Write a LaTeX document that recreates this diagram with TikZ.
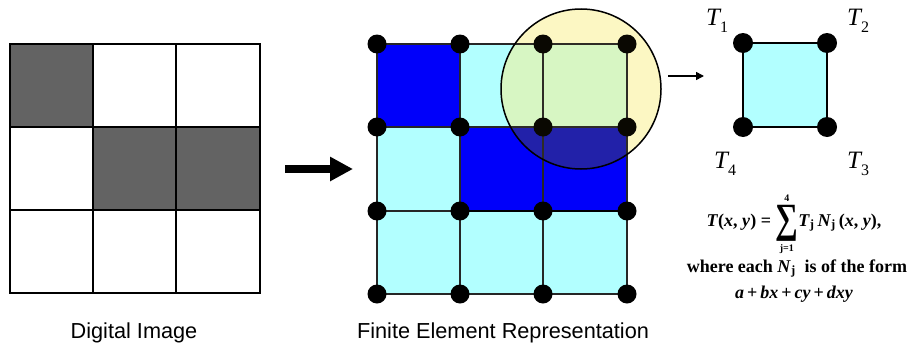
\documentclass[tikz,border=0pt]{standalone}
\usepackage{fontspec}
\setmainfont{Liberation Serif}
\setsansfont{Liberation Sans}
\usetikzlibrary{arrows.meta}
\definecolor{pixgray}{RGB}{99,99,99}
\definecolor{feblue}{RGB}{0,0,250}
\definecolor{fecyan}{RGB}{178,255,255}
\definecolor{lensyellow}{RGB}{255,252,204}
\definecolor{lensgreen}{RGB}{216,251,204}
\definecolor{lensblue}{RGB}{26,26,176}
\definecolor{lenstint}{RGB}{200,170,40}
\newcommand{\bfi}[1]{\textbf{\textit{#1}}}
\begin{document}
\begin{tikzpicture}[x=1pt,y=-1pt,
  dot/.style={circle,fill=black,inner sep=0pt,minimum size=19pt},
  pixline/.style={line width=2pt,black},
  feline/.style={line width=1.4pt,black!85},
  lbl/.style={font=\fontsize{21.7}{24}\selectfont\sffamily,anchor=base,inner sep=0pt},
  tlab/.style={font=\fontsize{25}{28}\selectfont\itshape,anchor=base west,inner sep=0pt},
  eqtext/.style={font=\fontsize{18}{20}\selectfont\bfseries,anchor=base,inner sep=0pt},
]
\useasboundingbox (0,0) rectangle (912,348);

% ---------- digital image grid ----------
\fill[pixgray] (10,44) rectangle (93,127);
\fill[pixgray] (93,127) rectangle (260,210);
\foreach \x in {93,176} \draw[pixline] (\x,44) -- (\x,293);
\foreach \y in {127,210} \draw[pixline] (10,\y) -- (260,\y);
\draw[pixline] (10,44) rectangle (260,293);
\draw[line width=2.8pt] (10,44) rectangle (93,127);
\draw[line width=2.8pt] (93,127) rectangle (260,210);
\draw[line width=2.8pt] (176,127) -- (176,210);

% ---------- big arrow ----------
\coordinate (bigA) at (285,169);
\coordinate (bigB) at (353,169);
\draw[line width=8pt,-{Triangle[length=23pt,width=23pt]}] (bigA) -- (bigB);

% ---------- finite element grid ----------
\foreach \i/\x in {0/377,1/460,2/543,3/627}
  \foreach \j/\y in {0/44,1/127,2/211,3/294}
    \coordinate (p\i\j) at (\x,\y);
\fill[fecyan] (p00) rectangle (p33);
\fill[feblue] (p00) rectangle (p11);
\fill[feblue] (p11) rectangle (p32);

\coordinate (lensc) at (581,89);
\begin{scope}
  \clip (lensc) circle[radius=80];
  \fill[lensyellow] (lensc) circle[radius=80];
  \fill[lensgreen] (p10) rectangle (p31);
  \fill[lensblue] (p11) rectangle (p32);
\end{scope}

\foreach \k in {0,1,2,3} {
  \draw[feline] (p\k0) -- (p\k3);
  \draw[feline] (p0\k) -- (p3\k);
}
\draw[line width=2.2pt] (p12) -- (p32);
\foreach \i in {0,1,2,3}
  \foreach \j in {0,1,2,3}
    \node[dot] (d\i\j) at (p\i\j) {};

\begin{scope}
  \clip (lensc) circle[radius=80];
  \fill[lenstint,opacity=0.05] (lensc) circle[radius=80];
\end{scope}
\draw[line width=1.5pt] (lensc) circle[radius=80];

% ---------- small arrow ----------
\coordinate (smA) at (668,76);
\coordinate (smB) at (704,76);
\draw[line width=1.5pt,-{Triangle[length=8pt,width=8pt]}] (smA) -- (smB);

% ---------- single element ----------
\coordinate (q1) at (743,43);
\coordinate (q2) at (827,43);
\coordinate (q3) at (827,127);
\coordinate (q4) at (743,127);
\filldraw[fill=fecyan,draw=black,line width=2pt] (q1) -- (q2) -- (q3) -- (q4) -- cycle;
\node[dot,minimum size=20pt] (e1) at (q1) {};
\node[dot,minimum size=20pt] (e2) at (q2) {};
\node[dot,minimum size=20pt] (e3) at (q3) {};
\node[dot,minimum size=20pt] (e4) at (q4) {};

\node[tlab] (t1) at (706,25) {T\raisebox{-7pt}{\fontsize{16}{16}\selectfont\upshape 1}};
\node[tlab] (t2) at (847,25) {T\raisebox{-7pt}{\fontsize{16}{16}\selectfont\upshape 2}};
\node[tlab] (t4) at (714,168) {T\raisebox{-7pt}{\fontsize{16}{16}\selectfont\upshape 4}};
\node[tlab] (t3) at (847,168) {T\raisebox{-7pt}{\fontsize{16}{16}\selectfont\upshape 3}};

% ---------- formula ----------
\node[eqtext] (eq1) at (794,226) {\bfi{T}(\bfi{x}, \bfi{y}) = $\mathop{\raisebox{-6pt}{\scalebox{1}[1.3]{\fontsize{32}{32}\selectfont\bfseries ∑}}}\limits_{\hbox{\fontsize{10}{10}\selectfont\bfseries j=1\vrule width0pt height9pt}}^{\hbox{\fontsize{10}{10}\selectfont\bfseries 4\vrule width0pt depth2pt}}$\bfi{T}\textsubscript{j}\,\bfi{N}\textsubscript{j}\,(\bfi{x}, \bfi{y}),};
\node[eqtext] (eq2) at (797,272) {where each \bfi{N}\textsubscript{j}\ \ is of the form};
\node[eqtext] (eq3) at (794,298) {\bfi{a}\,+\,\bfi{bx}\,+\,\bfi{cy}\,+\,\bfi{dxy}};

% ---------- captions ----------
\node[lbl] (cap1) at (134,338) {Digital Image};
\node[lbl] (cap2) at (503,338) {Finite Element Representation};
\end{tikzpicture}
\end{document}
